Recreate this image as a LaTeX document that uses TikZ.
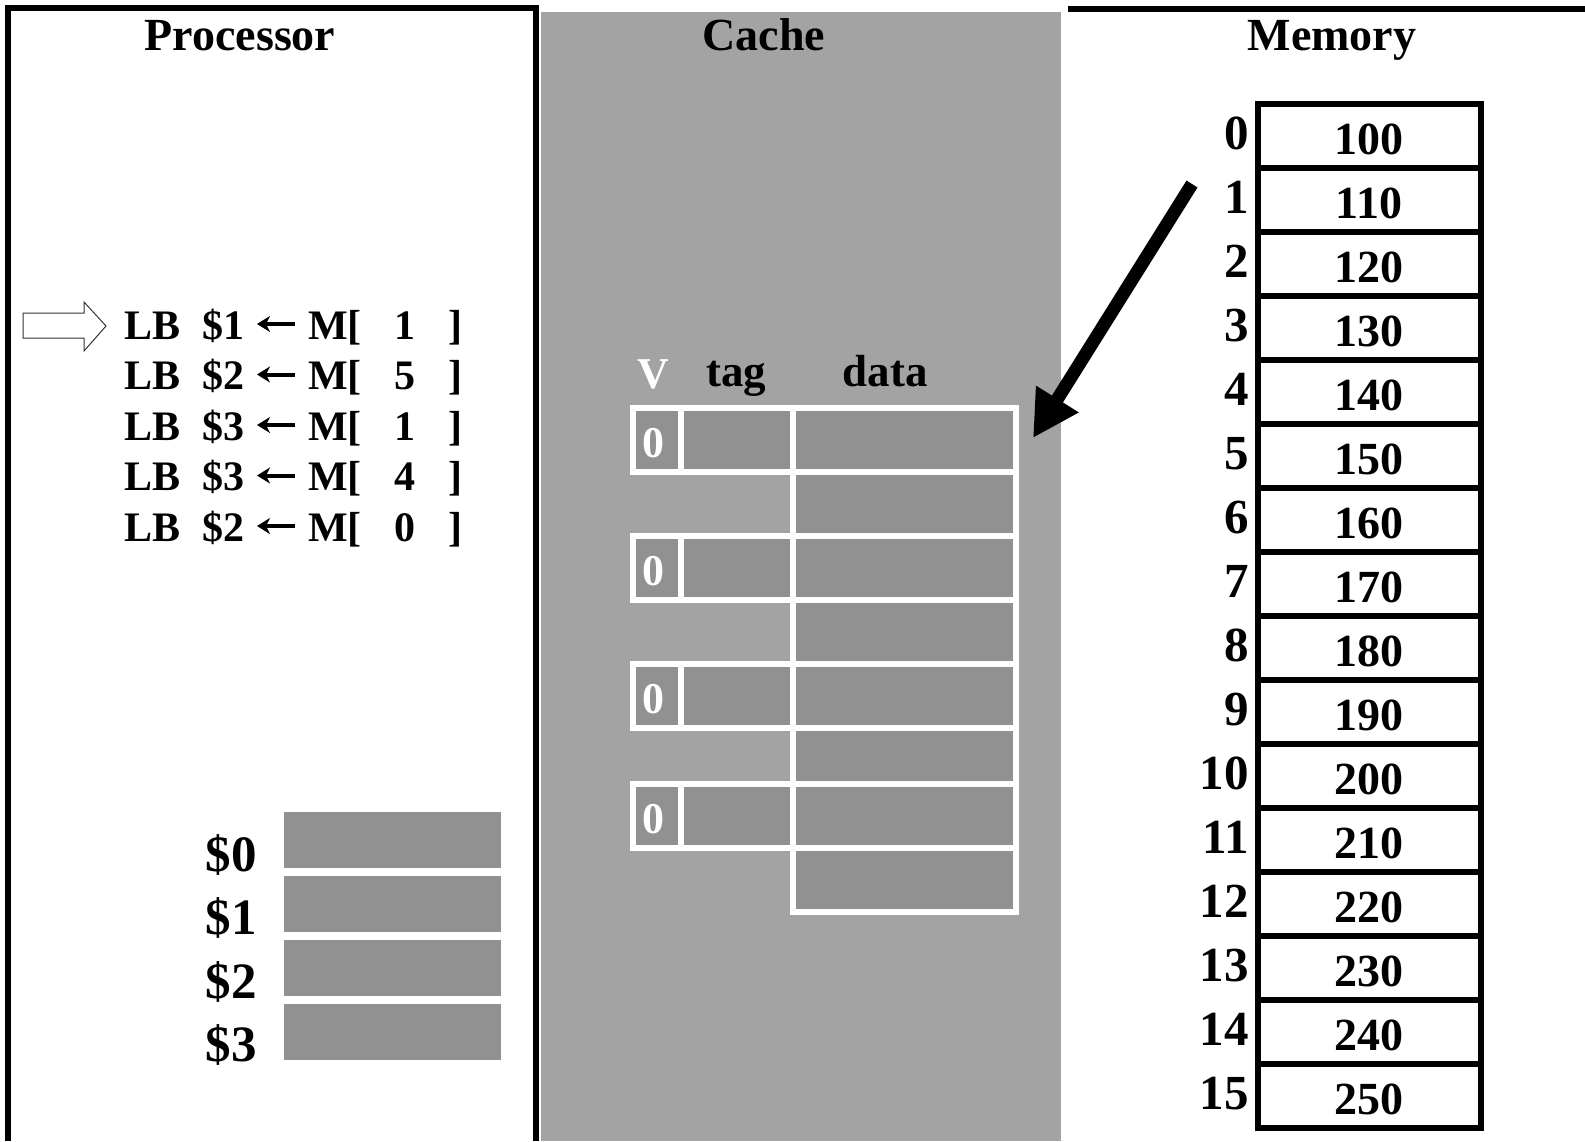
\documentclass[tikz,border=0pt]{standalone}
\usepackage{fontspec}
\setmainfont{Liberation Serif}
\usetikzlibrary{arrows.meta}

\definecolor{cachebg}{gray}{0.64}
\definecolor{cellgray}{gray}{0.57}

\tikzset{
  frame/.style={line width=6pt, draw=black},
  title/.style={font=\fontsize{46}{46}\selectfont\bfseries, anchor=base, inner sep=0pt},
  instr/.style={font=\fontsize{42}{42}\selectfont\bfseries, anchor=base west, inner sep=0pt},
  loadarrow/.style={line width=4pt, -{Stealth[length=13pt,width=16pt,inset=4pt]}},
  reglabel/.style={font=\fontsize{51}{51}\selectfont\bfseries, anchor=base east, inner sep=0pt},
  regbox/.style={fill=cellgray, draw=none},
  cachecell/.style={fill=cellgray, draw=white, line width=6pt},
  cachehead/.style={font=\fontsize{45}{45}\selectfont\bfseries, anchor=base, inner sep=0pt},
  validbit/.style={font=\fontsize{44}{44}\selectfont\bfseries, text=white, anchor=base, inner sep=0pt},
  memcell/.style={draw=black, line width=6pt, fill=white},
  memval/.style={font=\fontsize{46}{46}\selectfont\bfseries, anchor=base, inner sep=0pt},
  memidx/.style={font=\fontsize{49}{49}\selectfont\bfseries, anchor=base east, inner sep=0pt},
  pointer/.style={draw=black!80, line width=1pt, fill=white},
  fetch/.style={line width=13pt, -{Triangle[length=46pt,width=47pt]}},
}

\begin{document}
\begin{tikzpicture}[x=1pt, y=-1pt]
\useasboundingbox (0,0) rectangle (1585,1141);
\fill[white] (0,0) rectangle (1585,1141);

% --- three regions ---------------------------------------------------
\fill[cachebg] (541,12) rectangle (1061,1141);
\draw[frame] (8,1141) -- (8,8) -- (536,8) -- (536,1141);
\draw[frame] (1068,9) -- (1585,9);

\node[title] (tproc) at (240,50) {Processor};
\node[title] (tcache) at (764,50) {Cache};
\node[title] (tmem) at (1332,50) {Memory};

% --- processor: instruction list -------------------------------------
\foreach \r/\m [count=\i from 0] in {1/1, 2/5, 3/1, 3/4, 2/0} {
  \node[instr] (lb\i) at (124,{339+50.5*\i}) {LB};
  \node[instr] (rg\i) at (202,{339+50.5*\i}) {\$\r};
  \coordinate (as\i) at (295,{324+50.5*\i});
  \coordinate (ae\i) at (257,{324+50.5*\i});
  \draw[loadarrow] (as\i) -- (ae\i);
  \node[instr] (mm\i) at (308,{339+50.5*\i}) {M[};
  \node[instr, anchor=base] (ad\i) at (405,{339+50.5*\i}) {\m};
  \node[instr] (br\i) at (448,{339+50.5*\i}) {]};
}

% hollow pointer to the current instruction
\draw[pointer] (23,313) -- (84,313) -- (84,302) -- (106,326)
  -- (84,351) -- (84,338) -- (23,338) -- cycle;

% --- processor: register file ----------------------------------------
\foreach \k in {0,1,2,3} {
  \fill[regbox] (284,{812+64*\k}) rectangle (501,{868+64*\k});
  \node[reglabel] (reg\k) at (257,{871+63.5*\k}) {\$\k};
}

% --- cache: valid / tag / data ---------------------------------------
\node[validbit] (hV) at (653,388) {V};
\node[cachehead] (htag) at (736,386) {tag};
\node[cachehead] (hdata) at (885,386) {data};

% data column, eight byte rows
\foreach \t/\b [count=\i from 0] in {408/472, 472/536, 536/600, 600/664, 664/728, 728/784, 784/848, 848/912} {
  \draw[cachecell] (793,\t) rectangle (1016,\b);
}
% valid and tag cells on every other row
\foreach \t/\b [count=\i from 0] in {408/472, 536/600, 664/728, 784/848} {
  \draw[cachecell] (633,\t) rectangle (681,\b);
  \draw[cachecell] (681,\t) rectangle (793,\b);
  \draw[cachecell] (793,\t) rectangle (1016,\b);
  \node[validbit] (vb\i) at (653,\t+49) {0};
}

% --- memory -----------------------------------------------------------
\foreach \v [count=\i from 0] in {100,110,120,130,140,150,160,170,180,190,200,210,220,230,240,250} {
  \draw[memcell] (1258,{104+64*\i}) rectangle (1481,{168+64*\i});
  \node[memval] (mv\i) at (1369,{154+64*\i}) {\v};
  \node[memidx] (ma\i) at (1249,{149+64*\i}) {\i};
}

% --- fetch arrow from memory into the cache --------------------------
\coordinate (fsrc) at (1192,184);
\coordinate (fdst) at (1033,438);
\draw[fetch] (fsrc) -- (fdst);
\end{tikzpicture}
\end{document}
